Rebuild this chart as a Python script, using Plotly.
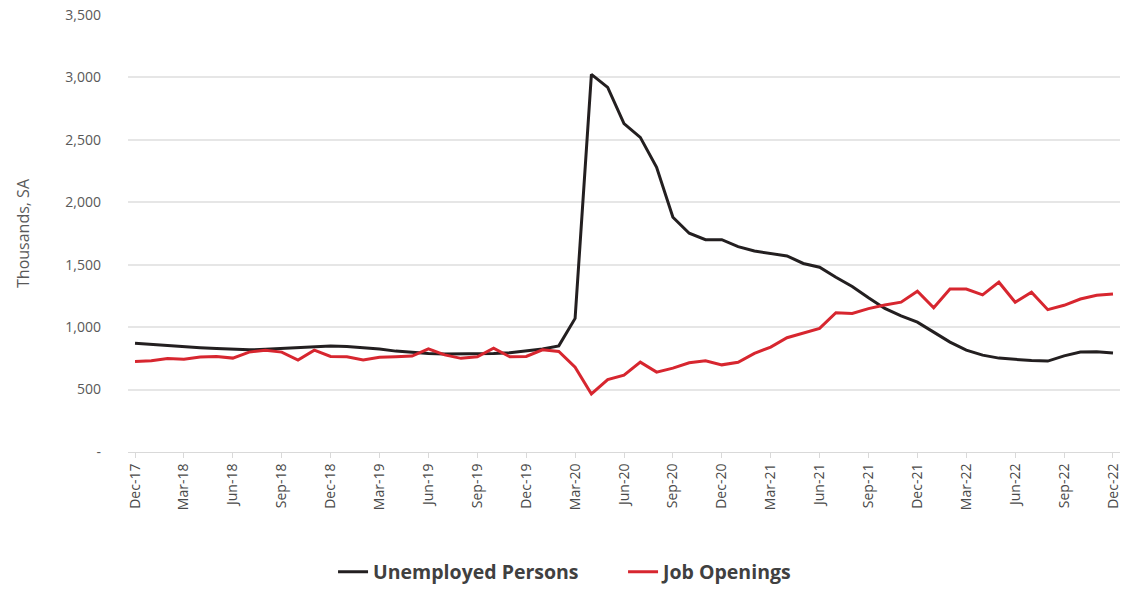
import plotly.graph_objects as go

months = []
_names = ["Jan", "Feb", "Mar", "Apr", "May", "Jun", "Jul", "Aug", "Sep", "Oct", "Nov", "Dec"]
months.append("Dec-17")
for yr in range(18, 23):
    for m in _names:
        months.append(f"{m}-{yr}")

unemployed = [870, 860, 850, 842, 835, 828, 820, 818, 822, 830, 838, 845, 848,
              845, 838, 825, 808, 795, 788, 785, 785, 785, 788, 795, 808,
              825, 850, 1070, 3025, 2920, 2630, 2520, 2280, 1880, 1752, 1700, 1700,
              1645, 1610, 1590, 1570, 1510, 1480, 1400, 1325, 1235, 1150, 1090, 1040,
              960, 880, 816, 776, 752, 742, 732, 728, 770, 800, 802, 792]

job_openings = [725, 730, 748, 742, 760, 765, 752, 800, 815, 800, 736, 816, 765,
                762, 738, 758, 762, 768, 826, 778, 750, 762, 832, 762, 765,
                818, 805, 680, 465, 580, 616, 720, 640, 672, 715, 730, 698,
                718, 790, 840, 915, 950, 990, 1115, 1110, 1148, 1178, 1200, 1288,
                1155, 1305, 1305, 1258, 1360, 1200, 1280, 1140, 1175, 1225, 1255, 1265]

tick_labels = months[::3]
y_ticks = [0, 500, 1000, 1500, 2000, 2500, 3000, 3500]
y_tick_text = ["-", "500", "1,000", "1,500", "2,000", "2,500", "3,000", "3,500"]

fig = go.Figure()
fig.add_trace(go.Scatter(x=months, y=unemployed, mode="lines", name="Unemployed Persons",
                         line=dict(color="#231f20", width=3)))
fig.add_trace(go.Scatter(x=months, y=job_openings, mode="lines", name="Job Openings",
                         line=dict(color="#d7262f", width=3)))

fig.update_layout(
    width=1124, height=590,
    margin=dict(l=128, r=4, t=15, b=138, autoexpand=False),
    paper_bgcolor="white", plot_bgcolor="white",
    font=dict(family="Lato, 'Open Sans', sans-serif", color="#595959"),
    showlegend=True,
    legend=dict(orientation="h", x=0.2067, xanchor="left", y=-0.275, yanchor="middle",
                font=dict(size=19.5, color="#404040", family="'Open Sans', sans-serif", weight="bold"),
                entrywidth=245, entrywidthmode="pixels", tracegroupgap=0),
)
fig.update_xaxes(
    type="category", categoryorder="array", categoryarray=months,
    tickmode="array", tickvals=tick_labels, ticktext=tick_labels,
    tickangle=-90, tickfont=dict(size=14, color="#4a4a4a", family="'Open Sans', sans-serif"),
    range=[-0.43, 60.43],
    showgrid=False, showline=True, linecolor="#d9d9d9", linewidth=1,
    ticks="outside", ticklen=5, tickcolor="#d9d9d9",
    zeroline=False,
)
fig.update_yaxes(
    range=[0, 3500], tickmode="array", tickvals=y_ticks, ticktext=y_tick_text,
    tickfont=dict(size=14, color="#595959", family="'Open Sans', sans-serif"),
    showgrid=True, gridcolor="#e6e6e6", gridwidth=1.5,
    zeroline=False, showline=False, ticks="", ticklabelstandoff=26,
    title=dict(text="Thousands, SA", font=dict(size=16, color="#595959", family="'Open Sans', sans-serif"), standoff=31),
)

fig.write_html("out.html")
